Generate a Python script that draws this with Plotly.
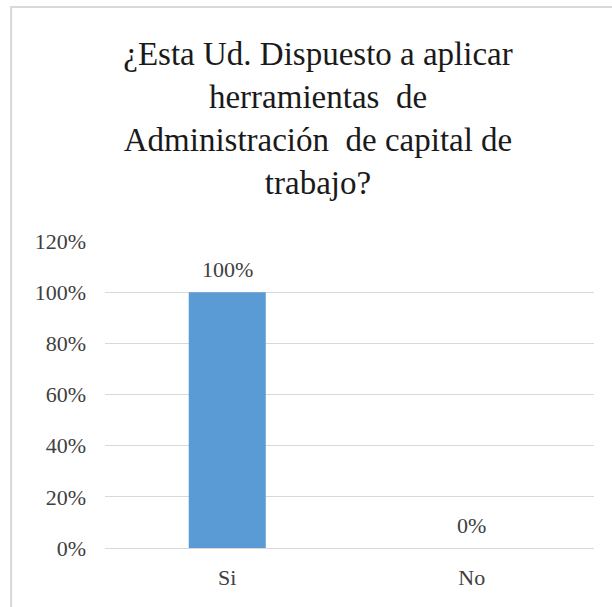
import plotly.graph_objects as go

categories = ["Si", "No"]
values = [1.00, 0.00]
y_ticks = [0, 0.2, 0.4, 0.6, 0.8, 1.0, 1.2]
title_text = "¿Esta Ud. Dispuesto a aplicar<br>herramientas  de<br>Administración  de capital de<br>trabajo?"

SERIF = "Liberation Serif, Times New Roman, serif"
BAR = "#5b9bd5"
TXT = "#404040"
GRID = "#d9d9d9"

fig = go.Figure()
fig.add_trace(go.Bar(
    x=categories, y=values, marker=dict(color=BAR, line=dict(width=0)),
    hoverinfo="skip", showlegend=False,
))

# data labels above the bars
for c, v in zip(categories, values):
    fig.add_annotation(x=c, y=v, text=f"{v:.0%}", showarrow=False,
                       yanchor="bottom", yshift=8,
                       font=dict(family=SERIF, size=22, color=TXT))

# chart border: only left and top edges fall inside the picture
fig.add_shape(type="rect", xref="paper", yref="paper",
              x0=-0.192, x1=1.2, y0=-0.3, y1=1.762,
              line=dict(color=GRID, width=2), fillcolor="rgba(0,0,0,0)",
              layer="above")

fig.update_xaxes(showgrid=False, showline=True, linecolor=GRID, linewidth=1,
                 ticks="", tickfont=dict(family=SERIF, size=22, color=TXT),
                 ticklabelstandoff=10)
fig.update_yaxes(range=[0, 1.2], tickvals=y_ticks, tickformat=".0%",
                 showgrid=True, gridcolor=GRID, gridwidth=1, zeroline=False,
                 showline=False, ticks="",
                 tickfont=dict(family=SERIF, size=22, color=TXT),
                 ticklabelstandoff=18)
fig.update_layout(
    width=612, height=607,
    margin=dict(l=105, r=18, t=241, b=59),
    bargap=0.685,
    paper_bgcolor="white", plot_bgcolor="white",
    title=dict(text=title_text, x=318 / 612, xanchor="center",
               y=1 - 65 / 607, yanchor="top",
               font=dict(family=SERIF, size=33, color="#1a1a1a")),
)

fig.write_html("out.html", config={"displayModeBar": False},
               post_script="document.body.style.margin='0';")
